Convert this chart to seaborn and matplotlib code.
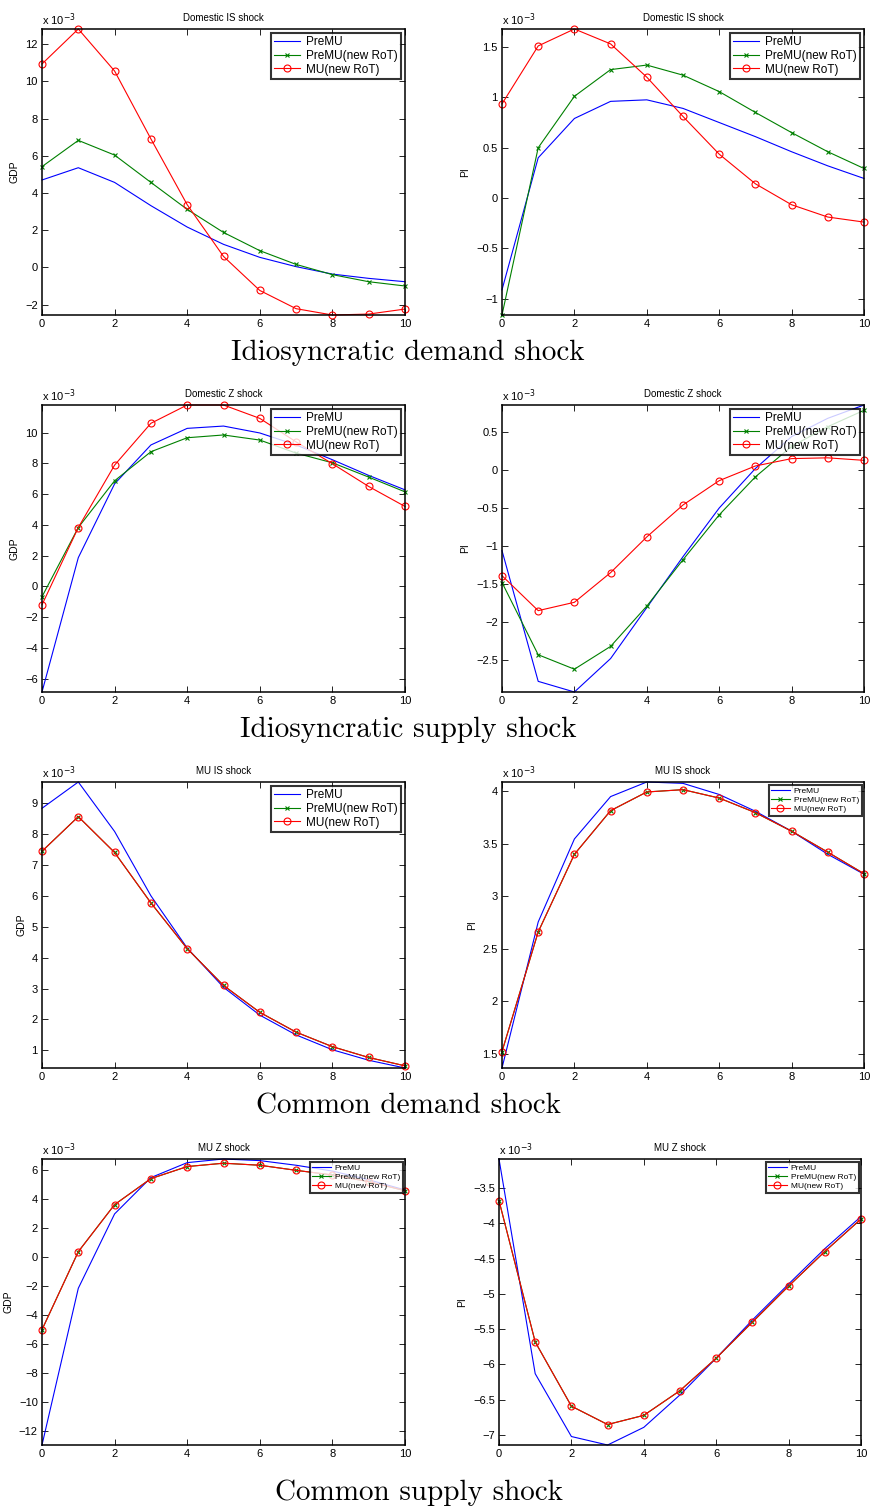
import numpy as np
import pandas as pd
import seaborn as sns
import matplotlib
matplotlib.use('Agg')
import matplotlib.pyplot as plt
from matplotlib.ticker import MultipleLocator, FuncFormatter

plt.rcParams['font.family'] = ['Liberation Sans', 'DejaVu Sans']

# horizon (quarters)
horizon = list(range(11))

series_names = ['PreMU', 'PreMU(new RoT)', 'MU(new RoT)']

# all values in units of 1e-3
# Domestic IS shock
gdp_dis_pre = [4.70, 5.36, 4.57, 3.32, 2.17, 1.24, 0.54, 0.04, -0.36, -0.59, -0.77]
gdp_dis_new = [5.42, 6.83, 6.04, 4.57, 3.12, 1.88, 0.90, 0.16, -0.39, -0.77, -1.00]
gdp_dis_mu = [10.94, 12.82, 10.56, 6.91, 3.37, 0.59, -1.24, -2.22, -2.56, -2.51, -2.24]
pi_dis_pre = [-0.91, 0.40, 0.79, 0.96, 0.975, 0.89, 0.75, 0.61, 0.46, 0.32, 0.195]
pi_dis_new = [-1.16, 0.50, 1.01, 1.275, 1.32, 1.22, 1.057, 0.85, 0.65, 0.46, 0.294]
pi_dis_mu = [0.935, 1.51, 1.678, 1.53, 1.20, 0.81, 0.436, 0.142, -0.066, -0.188, -0.238]

# Domestic Z shock
gdp_dz_pre = [-6.87, 1.87, 6.67, 9.20, 10.28, 10.43, 9.98, 9.20, 8.24, 7.22, 6.28]
gdp_dz_new = [-0.67, 3.83, 6.87, 8.76, 9.67, 9.85, 9.52, 8.67, 8.04, 7.11, 6.15]
gdp_dz_mu = [-1.20, 3.83, 7.89, 10.61, 11.80, 11.80, 10.93, 9.40, 7.98, 6.50, 5.20]
pi_dz_pre = [-1.06, -2.78, -2.92, -2.48, -1.81, -1.14, -0.50, 0.02, 0.44, 0.68, 0.855]
pi_dz_new = [-1.48, -2.43, -2.62, -2.32, -1.79, -1.18, -0.59, -0.09, 0.31, 0.57, 0.785]
pi_dz_mu = [-1.39, -1.85, -1.74, -1.35, -0.88, -0.46, -0.14, 0.053, 0.15, 0.16, 0.127]

# MU IS shock
gdp_mis_pre = [8.83, 9.68, 8.08, 6.00, 4.31, 3.04, 2.14, 1.50, 1.02, 0.68, 0.43]
gdp_mis_new = [7.44, 8.56, 7.40, 5.77, 4.29, 3.10, 2.23, 1.59, 1.12, 0.77, 0.50]
gdp_mis_mu = [7.44, 8.56, 7.40, 5.77, 4.29, 3.10, 2.23, 1.59, 1.12, 0.77, 0.50]
pi_mis_pre = [1.363, 2.755, 3.546, 3.95, 4.089, 4.076, 3.97, 3.81, 3.62, 3.40, 3.21]
pi_mis_new = [1.52, 2.66, 3.40, 3.816, 3.994, 4.016, 3.936, 3.797, 3.62, 3.42, 3.215]
pi_mis_mu = [1.52, 2.66, 3.40, 3.816, 3.994, 4.016, 3.936, 3.797, 3.62, 3.42, 3.215]

# MU Z shock
gdp_mz_pre = [-12.96, -2.17, 2.95, 5.45, 6.48, 6.73, 6.62, 6.30, 5.90, 5.30, 4.60]
gdp_mz_new = [-5.02, 0.35, 3.59, 5.38, 6.21, 6.44, 6.30, 5.95, 5.63, 5.17, 4.55]
gdp_mz_mu = [-5.02, 0.35, 3.59, 5.38, 6.21, 6.44, 6.30, 5.95, 5.63, 5.17, 4.55]
pi_mz_pre = [-3.09, -6.13, -7.02, -7.14, -6.89, -6.43, -5.91, -5.37, -4.86, -4.36, -3.905]
pi_mz_new = [-3.68, -5.68, -6.59, -6.85, -6.72, -6.37, -5.91, -5.40, -4.89, -4.40, -3.94]
pi_mz_mu = [-3.68, -5.68, -6.59, -6.85, -6.72, -6.37, -5.91, -5.40, -4.89, -4.40, -3.94]

captions = ['Idiosyncratic demand shock', 'Idiosyncratic supply shock',
            'Common demand shock', 'Common supply shock']

W, H = 872, 1510


def rect(l, t, r, b):
    return [l / W, 1 - b / H, (r - l) / W, (b - t) / H]


# (title, ylabel, series, ytick step, legend fontsize, axes rect)
panels = [
    ('Domestic IS shock', 'GDP', (gdp_dis_pre, gdp_dis_new, gdp_dis_mu), 2, 8.5, rect(42, 29, 405, 315)),
    ('Domestic IS shock', 'PI', (pi_dis_pre, pi_dis_new, pi_dis_mu), 0.5, 8.5, rect(502, 29, 864, 315)),
    ('Domestic Z shock', 'GDP', (gdp_dz_pre, gdp_dz_new, gdp_dz_mu), 2, 8.5, rect(42, 405, 405, 692)),
    ('Domestic Z shock', 'PI', (pi_dz_pre, pi_dz_new, pi_dz_mu), 0.5, 8.5, rect(502, 405, 864, 692)),
    ('MU IS shock', 'GDP', (gdp_mis_pre, gdp_mis_new, gdp_mis_mu), 1, 8.5, rect(42, 782, 405, 1068)),
    ('MU IS shock', 'PI', (pi_mis_pre, pi_mis_new, pi_mis_mu), 0.5, 6, rect(502, 782, 864, 1068)),
    ('MU Z shock', 'GDP', (gdp_mz_pre, gdp_mz_new, gdp_mz_mu), 2, 6, rect(42, 1159, 405, 1445)),
    ('MU Z shock', 'PI', (pi_mz_pre, pi_mz_new, pi_mz_mu), 0.5, 6, rect(499, 1159, 861, 1445)),
]

styles = [
    dict(color='#0000ff', lw=0.8),
    dict(color='#008000', lw=0.8, marker='x', markersize=3.5, mew=0.8,
         markeredgecolor='#008000'),
    dict(color='#ff0000', lw=0.8, marker='o', markersize=5, mew=0.8,
         markerfacecolor='none', markeredgecolor='#ff0000'),
]

fmt = FuncFormatter(lambda v, p: ('%g' % round(v, 6)).replace('-', '\u2212'))

fig = plt.figure(figsize=(W / 100, H / 100), dpi=100)

for title, ylab, data, step, lfs, pos in panels:
    ax = fig.add_axes(pos)
    for name, vals, st in zip(series_names, data, styles):
        sns.lineplot(x=horizon, y=vals, ax=ax, label=name, clip_on=False, **st)
    allv = np.concatenate([np.asarray(d) for d in data])
    ax.set_xlim(0, 10)
    ax.set_ylim(allv.min(), allv.max())
    ax.xaxis.set_major_locator(MultipleLocator(2))
    ax.yaxis.set_major_locator(MultipleLocator(step))
    ax.yaxis.set_major_formatter(fmt)
    ax.tick_params(direction='in', top=True, right=True, labelsize=8, length=4, width=0.6, pad=3)
    for s in ax.spines.values():
        s.set_linewidth(1.1)
    ax.set_title(title, fontsize=7, pad=6)
    ax.set_ylabel(ylab, fontsize=7.5, labelpad=4)
    ax.set_xlabel('')
    ax.text(0, 1.004, r'x 10$^{-3}$', transform=ax.transAxes, ha='left', va='bottom', fontsize=8)
    leg = ax.legend(loc='upper right', fontsize=lfs, frameon=True, fancybox=False,
                    borderaxespad=0.3, labelspacing=0.15, handlelength=2.2,
                    handletextpad=0.5, borderpad=0.3)
    leg.get_frame().set_edgecolor('black')
    leg.get_frame().set_linewidth(1.5)
    leg.set_zorder(5)

caption_y = [353, 730, 1106, 1493]
caption_x = [408, 408, 408, 419]
for txt, cx, cy in zip(captions, caption_x, caption_y):
    fig.text(cx / W, 1 - cy / H, txt, ha='center', va='center', fontsize=21, family='cmr10')

fig.savefig('out.png', dpi=100)
